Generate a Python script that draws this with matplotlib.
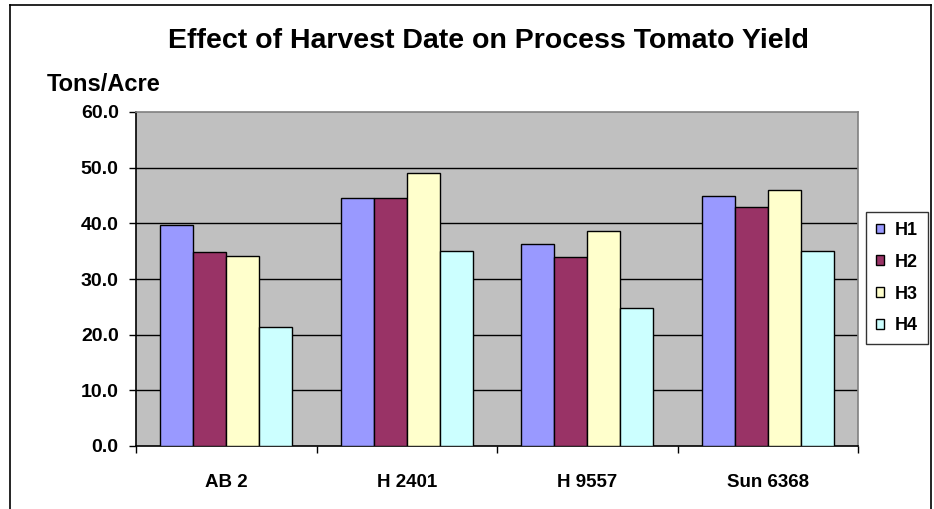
import matplotlib
matplotlib.use("Agg")
import matplotlib.pyplot as plt
import numpy as np
from matplotlib.patches import Rectangle
from matplotlib.lines import Line2D

categories = ["AB 2", "H 2401", "H 9557", "Sun 6368"]
series_names = ["H1", "H2", "H3", "H4"]
H1 = [39.7, 44.5, 36.3, 45.0]
H2 = [34.8, 44.5, 33.9, 42.9]
H3 = [34.1, 49.0, 38.7, 46.0]
H4 = [21.3, 35.0, 24.8, 35.0]
yticks = [0, 10, 20, 30, 40, 50, 60]
colors = ["#9999FF", "#993366", "#FFFFCC", "#CCFFFF"]

plt.rcParams['font.family'] = ['Liberation Sans', 'DejaVu Sans']
plt.rcParams['font.weight'] = 'bold'

W, H = 934, 509
fig = plt.figure(figsize=(W/100, H/100), dpi=100)
ax = fig.add_axes([136/W, 1-446/H, 722/W, 334/H])
ax.set_facecolor("#C0C0C0")

x = np.arange(len(categories))
w = 0.183
for i, (vals, c, name) in enumerate(zip([H1, H2, H3, H4], colors, series_names)):
    ax.bar(x + (i-1.5)*w, vals, width=w, color=c, edgecolor="black", linewidth=1.0, label=name, zorder=3)

ax.set_xlim(-0.5, 3.5)
ax.set_ylim(0, 60)
ax.set_yticks(yticks)
ax.set_yticklabels([f"{v:.1f}" for v in yticks], fontsize=14, fontweight='bold')
for v in yticks[1:-1]:
    ax.axhline(v, color="black", linewidth=1.0, zorder=1)
ax.set_xticks(x)
ax.set_xticklabels(categories, fontsize=13.5, fontweight='bold')
ax.tick_params(axis='x', which='major', length=0, pad=20)
ax.set_xticks(np.arange(-0.5, 4, 1), minor=True)
ax.tick_params(axis='x', which='minor', length=5, width=1, color='black', direction='out')
ax.tick_params(axis='y', length=5, width=1, direction='out', pad=7.5)

ax.spines['left'].set_color('black')
ax.spines['bottom'].set_color('black')
ax.spines['top'].set_color('#808080')
ax.spines['right'].set_color('#808080')
for s in ax.spines.values():
    s.set_linewidth(1.2)

fig.text(488/W, 1-48.3/H, "Effect of Harvest Date on Process Tomato Yield", ha='center', va='baseline',
         fontsize=20.5, fontweight='bold')
fig.text(47/W, 1-90.7/H, "Tons/Acre", ha='left', va='baseline', fontsize=17, fontweight='bold')

handles = [Rectangle((0, 0), 1, 1, facecolor=c, edgecolor='black', linewidth=1) for c in colors]
leg = fig.legend(handles, series_names, loc='upper left', bbox_to_anchor=(866/W, 1-212/H),
                 frameon=True, fancybox=False, edgecolor='black',
                 prop={'weight': 'bold', 'size': 13}, handlelength=0.45, handleheight=0.45,
                 handletextpad=0.6, labelspacing=0.82, borderpad=0.55, borderaxespad=0)
leg.get_frame().set_linewidth(1.0)

# outer chart border
fig.add_artist(Line2D([10/W, 10/W], [0, 1-5/H], color='black', linewidth=1.2, transform=fig.transFigure))
fig.add_artist(Line2D([10/W, 931/W], [1-5/H, 1-5/H], color='black', linewidth=1.2, transform=fig.transFigure))
fig.add_artist(Line2D([931/W, 931/W], [0, 1-5/H], color='black', linewidth=1.2, transform=fig.transFigure))

fig.savefig("out.png", dpi=100)
